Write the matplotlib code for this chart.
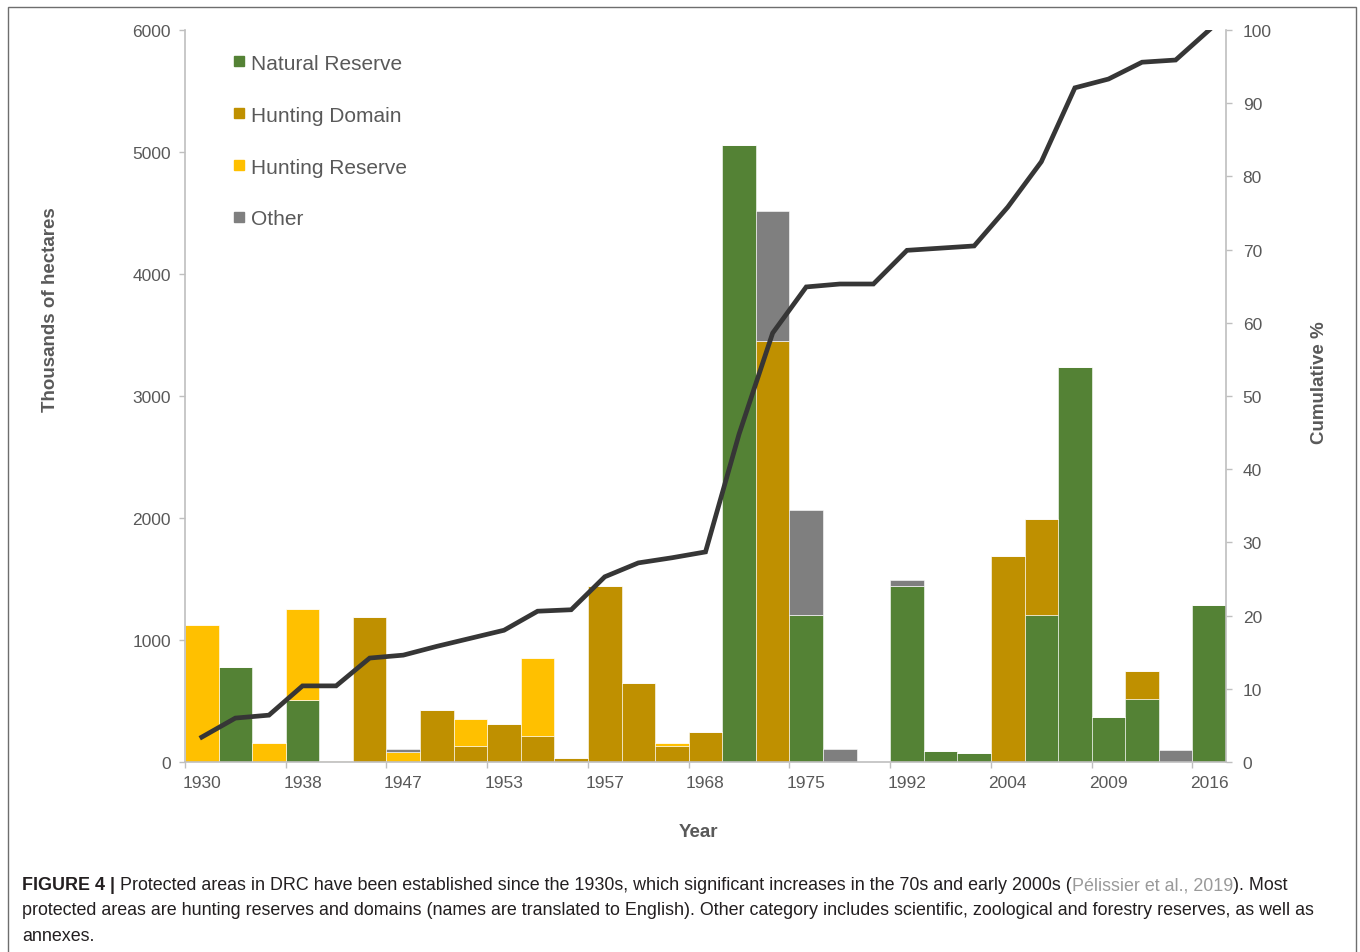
import matplotlib
matplotlib.use('Agg')
import matplotlib.pyplot as plt
from matplotlib.lines import Line2D
import numpy as np

# ---------------- data ----------------
categories = ['1930', '', '', '1938', '', '', '1947', '', '', '1953', '', '',
              '1957', '', '', '1968', '', '', '1975', '', '', '1992', '', '',
              '2004', '', '', '2009', '', '', '2016']
natural_reserve = [0, 776, 0, 508, 0, 0, 0, 0, 0, 0, 0, 0, 0, 0, 0, 0,
                   5057, 0, 1205, 0, 0, 1440, 90, 71, 0, 1205, 3235, 369, 516, 0, 1290]
hunting_domain = [0, 0, 0, 0, 0, 1189, 0, 426, 134, 309, 216, 33, 1440, 645, 134, 248,
                  0, 3451, 0, 0, 0, 0, 0, 0, 1686, 787, 0, 0, 233, 0, 0]
hunting_reserve = [1126, 0, 156, 746, 10, 0, 79, 0, 218, 0, 636, 0, 0, 0, 19, 0,
                   0, 0, 0, 0, 0, 0, 0, 0, 0, 0, 0, 0, 0, 0, 0]
other = [0, 0, 0, 0, 0, 0, 28, 0, 0, 0, 0, 0, 0, 0, 0, 0,
         0, 1065, 861, 104, 0, 49, 0, 0, 0, 0, 0, 0, 0, 96, 0]
cumulative_pct = [3.4, 6.0, 6.4, 10.4, 10.4, 14.2, 14.6, 15.8, 16.9, 18.0, 20.6, 20.8,
                  25.3, 27.2, 27.9, 28.7, 44.8, 58.6, 64.9, 65.3, 65.3, 69.9, 70.2, 70.5,
                  75.8, 82.0, 92.1, 93.3, 95.6, 95.9, 100.0]
series_names = ['Natural Reserve', 'Hunting Domain', 'Hunting Reserve', 'Other']
series_colors = ['#548235', '#BF9000', '#FFC000', '#7F7F7F']

# ---------------- figure ----------------
plt.rcParams['font.family'] = ['Liberation Sans', 'DejaVu Sans']
TXT = '#595959'
AX = '#BFBFBF'

fig = plt.figure(figsize=(13.6, 9.53), dpi=100)
ax = fig.add_axes([185/1360, 1-763/953, (1226-185)/1360, (763-31)/953])

x = np.arange(len(categories))
bottom = np.zeros(len(categories))
for vals, name, col in zip([natural_reserve, hunting_domain, hunting_reserve, other],
                           series_names, series_colors):
    v = np.array(vals, dtype=float)
    ax.bar(x, v, width=1.0, bottom=bottom, color=col, edgecolor='white',
           linewidth=0.4, label=name, zorder=2)
    bottom += v

ax.set_xlim(-0.5, len(categories) - 0.5)
ax.set_ylim(0, 6000)
ax.set_yticks(np.arange(0, 6001, 1000))

# ticks at category boundaries, labels at centres
lab_pos = [i for i, c in enumerate(categories) if c]
ax.set_xticks([p - 0.5 for p in lab_pos])
ax.set_xticklabels([])
ax.set_xticks(lab_pos, minor=True)
ax.set_xticklabels([categories[p] for p in lab_pos], minor=True)
ax.tick_params(axis='x', which='minor', length=0, pad=9, labelsize=12.5, labelcolor=TXT)
ax.tick_params(axis='x', which='major', length=4, width=1, color=AX)
ax.tick_params(axis='y', length=4, width=1, color=AX, labelsize=12.5, labelcolor=TXT, pad=6)

for s in ['top', 'right']:
    ax.spines[s].set_visible(False)
ax.spines['left'].set_color(AX)
ax.spines['bottom'].set_color(AX)
ax.spines['left'].set_linewidth(1.2)
ax.spines['bottom'].set_linewidth(1.2)

ax2 = ax.twinx()
ax2.plot(x, cumulative_pct, color='#363636', linewidth=3.4, solid_joinstyle='miter', zorder=5)
ax2.set_ylim(0, 100)
ax2.set_yticks(np.arange(0, 101, 10))
ax2.tick_params(axis='y', length=4, width=1, color=AX, labelsize=12.5, labelcolor=TXT, pad=8)
for s in ['top', 'left', 'bottom']:
    ax2.spines[s].set_visible(False)
ax2.spines['right'].set_color(AX)
ax2.spines['right'].set_linewidth(1.2)

ax.set_ylabel('Thousands of hectares', fontsize=13.5, fontweight='bold', color=TXT)
ax.yaxis.set_label_coords(-0.121, 0.62)
ax2.set_ylabel('Cumulative %', fontsize=13.5, fontweight='bold', color=TXT)
ax2.yaxis.set_label_coords(1.082, 0.52)
ax.set_xlabel('Year', fontsize=13.5, fontweight='bold', color=TXT)
ax.xaxis.set_label_coords(0.493, -0.083)

handles = [Line2D([], [], marker='s', linestyle='none', markersize=7.5,
                  markerfacecolor=c, markeredgecolor=c) for c in series_colors]
leg = ax.legend(handles, series_names, loc='upper left', bbox_to_anchor=(0.038, 0.979),
                frameon=False, fontsize=15, labelspacing=1.58, handlelength=0.6,
                handletextpad=0.25, borderaxespad=0)
for t in leg.get_texts():
    t.set_color(TXT)

# ---------------- frame ----------------
frame = plt.Rectangle((8/1360, -0.05), (1356-8)/1360, 1.05 - 8/953, transform=fig.transFigure,
                      fill=False, edgecolor='#6E6E6E', linewidth=1.0)
fig.add_artist(frame)

# ---------------- caption ----------------
cap_font = ['Liberation Sans Narrow', 'DejaVu Sans Condensed', 'Liberation Sans']
cap_size = 12.9
cap_col = '#231F20'
lines = [
    [('FIGURE 4 |', 'bold', cap_col),
     (' Protected areas in DRC have been established since the 1930s, which significant increases in the 70s and early 2000s (', 'normal', cap_col),
     ('Pélissier et al., 2019', 'normal', '#9A9A9A'),
     ('). Most', 'normal', cap_col)],
    [('protected areas are hunting reserves and domains (names are translated to English). Other category includes scientific, zoological and forestry reserves, as well as', 'normal', cap_col)],
    [('annexes.', 'normal', cap_col)],
]
line_y = [886, 911, 937]
renderer = fig.canvas.get_renderer()
for segs, yy in zip(lines, line_y):
    xpix = 22
    for txt, w, c in segs:
        t = fig.text(xpix/1360, 1 - yy/953, txt, fontsize=cap_size, fontweight=w, color=c,
                     family=cap_font, ha='left', va='center')
        bb = t.get_window_extent(renderer=renderer)
        xpix += bb.width

fig.savefig('out.png', dpi=100)
